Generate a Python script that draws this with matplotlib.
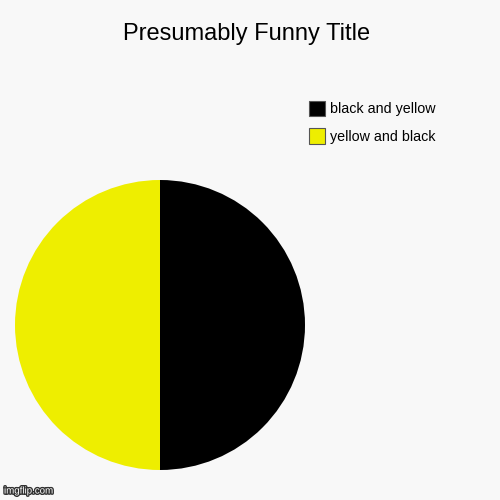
import matplotlib
matplotlib.use("Agg")
import matplotlib.pyplot as plt
import matplotlib.patheffects as pe
from matplotlib.patches import Patch

# data
labels = ["black and yellow", "yellow and black"]
values = [50, 50]
colors = ["#000000", "#eeee00"]

plt.rcParams["font.family"] = ["Liberation Sans", "DejaVu Sans"]

fig = plt.figure(figsize=(5, 5), dpi=100, facecolor="#f8f8f8")
fig.text(0.494, 0.932, "Presumably Funny Title", ha="center", va="center", fontsize=17)

ax = fig.add_axes([0.03, 0.06, 0.58, 0.58])
ax.set_facecolor("#f8f8f8")
ax.pie(values, colors=colors, startangle=90, counterclock=False)
ax.set_xlim(-1, 1)
ax.set_ylim(-1, 1)
ax.set_aspect("equal")

handles = [Patch(facecolor=c, edgecolor="#555555", linewidth=0.8) for c in colors]
fig.legend(handles, labels, loc="upper left", bbox_to_anchor=(0.607, 0.81),
           frameon=False, fontsize=10.3, handlelength=1.1, handleheight=1.3,
           handletextpad=0.35, labelspacing=0.85, borderaxespad=0)

fig.text(0.008, 0.013, "imgflip.com", fontsize=7, color="#ffffff",
         path_effects=[pe.withStroke(linewidth=2, foreground="#333333")])

fig.savefig("out.png", dpi=100, facecolor=fig.get_facecolor())
